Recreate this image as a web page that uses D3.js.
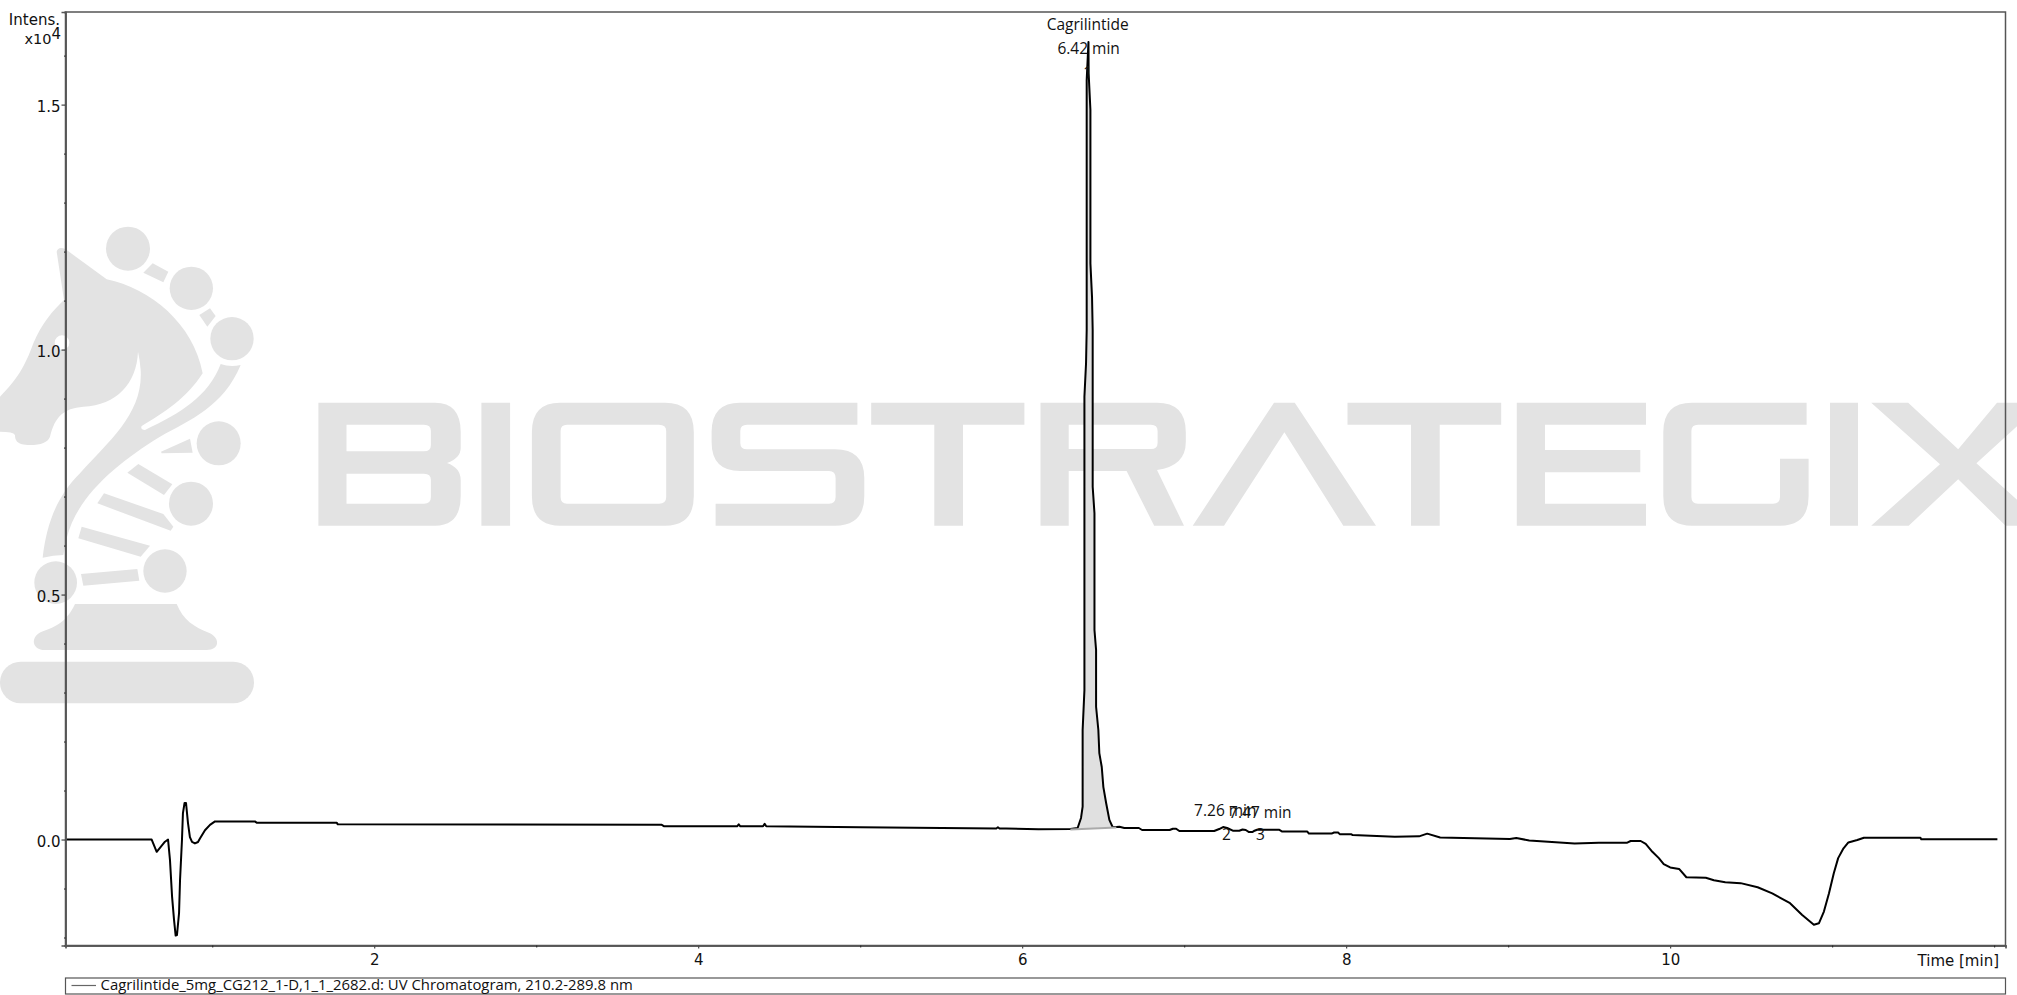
<!DOCTYPE html>
<meta charset="utf-8">
<style>
html, body { margin: 0; padding: 0; background: #fff; }
svg { display: block; }
text { font-family: "Open Sans", sans-serif; fill: #111; }
.axis text { font-family: "DejaVu Sans", sans-serif; font-size: 15px; fill: #111; }
.axis path { stroke: #555; stroke-width: 1.5px; }
.axis line { stroke: #222; }
.peaklabel { font-size: 15.5px; text-anchor: middle; }
.watermark { fill: #e3e3e3; fill-rule: evenodd; }
</style>
<svg width="2017" height="995"></svg>
<script src="https://cdn.jsdelivr.net/npm/d3@7"></script>
<script>

// retention time in minutes, intensity in units of 10^4
var times = [0.095, 0.626, 0.657, 0.677, 0.708, 0.727, 0.739, 0.752, 0.764, 0.774, 0.782, 0.795, 0.801, 0.813, 0.819, 0.829, 0.838, 0.85, 0.862, 0.875, 0.893, 0.912, 0.924, 0.955, 0.986, 1.017, 1.263, 1.276, 1.769, 1.775, 3.775, 3.79, 4.24, 4.25, 4.26, 4.4, 4.41, 4.42, 5, 5.84, 5.85, 5.86, 5.9, 6.1, 6.297,
  6.342, 6.363, 6.373, 6.373, 6.384, 6.384, 6.394, 6.398, 6.398, 6.409, 6.41, 6.421, 6.421, 6.431, 6.435, 6.435, 6.446, 6.446, 6.456, 6.456, 6.47, 6.476, 6.491, 6.501, 6.518, 6.538, 6.558, 6.581,
  6.6, 6.63, 6.72, 6.74, 6.91, 6.93, 6.95, 6.97, 7.185, 7.216, 7.24, 7.265, 7.3, 7.34, 7.36, 7.38, 7.4, 7.42, 7.43, 7.45, 7.555, 7.585, 7.605, 7.76, 7.77, 7.91, 7.925, 7.95, 7.96, 8.03, 8.04, 8.3, 8.45, 8.5, 8.58, 9.01, 9.05, 9.13, 9.41, 9.56, 9.735,
  9.756, 9.818, 9.849, 9.89, 9.93, 9.96, 10, 10.055, 10.1, 10.22, 10.27, 10.34, 10.435, 10.54, 10.63, 10.74, 10.815, 10.887, 10.918, 10.949, 10.98, 11.01, 11.037, 11.07, 11.1, 11.155, 11.196, 11.545, 11.55, 12.02];
var intens = [0, 0, -0.025, -0.017, -0.0045, 0, -0.042, -0.117, -0.164, -0.196, -0.195, -0.15, -0.083, -0.001, 0.054, 0.0745, 0.0745, 0.034, 0.005, -0.005, -0.008, -0.005, 0.002, 0.019, 0.03, 0.037, 0.037, 0.034, 0.034, 0.031, 0.03, 0.027, 0.027, 0.031, 0.027, 0.027, 0.032, 0.027, 0.025, 0.0225, 0.025, 0.0225, 0.0225, 0.021, 0.0215,
  0.0235, 0.044, 0.067, 0.2235, 0.305, 0.904, 0.972, 1.04, 1.55, 1.628, 1.564, 1.489, 1.176, 1.107, 1.04, 0.72, 0.666, 0.4276, 0.387, 0.271, 0.2235, 0.1765, 0.148, 0.107, 0.0745, 0.04, 0.0255, 0.0255,
  0.026, 0.0235, 0.0235, 0.0194, 0.0194, 0.022, 0.022, 0.0173, 0.0173, 0.0214, 0.0255, 0.0235, 0.018, 0.018, 0.0204, 0.0194, 0.0153, 0.0153, 0.0173, 0.02, 0.02, 0.02, 0.0163, 0.0163, 0.0122, 0.0122, 0.0143, 0.0143, 0.011, 0.011, 0.009, 0.0055, 0.0065, 0.012, 0.004, 0.001, 0.003, -0.002, -0.008, -0.0065, -0.0065,
  -0.003, -0.003, -0.009, -0.025, -0.038, -0.05, -0.057, -0.06, -0.077, -0.078, -0.083, -0.087, -0.089, -0.0975, -0.11, -0.13, -0.154, -0.174, -0.171, -0.147, -0.11, -0.069, -0.038, -0.018, -0.006, -0.001, 0.0037, 0.0037, 0.0004, 0.0004];

var xMajor = [2, 4, 6, 8, 10];
var xMinor = [1, 3, 5, 7, 9, 11, 12];
var yMajor = [0, 0.5, 1, 1.5];
var yMinor = [-0.2, -0.1, 0.1, 0.2, 0.3, 0.4, 0.6, 0.7, 0.8, 0.9, 1.1, 1.2, 1.3, 1.4, 1.6];

var peakStart = 6.297, peakEnd = 6.581;
var peakNames = [["Cagrilintide", "6.42 min", "1"], [null, "7.26 min", "2"], [null, "7.47 min", "3"]];
var peakTimes = [6.41, 7.26, 7.47];
var legendText = "Cagrilintide_5mg_CG212_1-D,1_1_2682.d: UV Chromatogram, 210.2-289.8 nm";

var svg = d3.select("svg");
var left = 65.5, right = 2005.5, top_ = 12, bottom = 945.5;

var x = d3.scaleLinear().domain([0.094, 12.07]).range([left, right]);
var y = d3.scaleLinear().domain([-0.2163, 1.689]).range([bottom, top_]);

// watermark, traced in a 3x crop so it is scaled back down
var mark = svg.append("g").attr("transform", "translate(0,210) scale(0.33333)").attr("class", "watermark");
mark.append("path").attr("d", "M170,125 Q175,108 197,118 L320,208 C450,235 580,340 608,490 C560,565 490,610 425,648 Q420,658 435,660 C540,610 625,560 662,462 Q690,472 722,465 C670,590 570,630 480,680 C350,760 230,860 200,985 L190,1035 Q160,1035 128,1043 C140,940 170,860 240,790 C330,690 430,610 422,480 Q420,450 414,425 C410,520 350,585 250,590 C190,595 165,620 150,680 Q140,705 90,705 C50,705 45,690 45,675 Q40,665 0,665 L0,560 C50,510 75,470 100,400 C125,340 160,300 192,270 Z M208,398 A22,22 0 1,0 164,398 A22,22 0 1,0 208,398 Z");
[[384,116,66],[574,235,65],[696,386,65],[656,700,66],[573,881,66],[495,1083,65],[167,1118,64]].forEach(function(c) {
  mark.append("circle").attr("cx", c[0]).attr("cy", c[1]).attr("r", c[2]);
});
["M430,188 L458,160 L505,185 L490,217 Z", "M598,315 L630,295 L647,318 L622,350 Z", "M483,725 L570,686 L578,728 L485,730 Z",
 "M382,788 L415,762 L517,823 L492,855 Z", "M292,880 L312,850 L490,912 L520,950 L512,962 Z", "M235,985 L245,950 L450,1007 L422,1040 Z",
 "M243,1092 L412,1077 L418,1112 L250,1127 Z",
 "M225,1182 L530,1182 C550,1230 580,1250 630,1270 C660,1285 660,1320 620,1320 L135,1320 C95,1320 90,1280 125,1265 C170,1250 200,1235 225,1182 Z"
].forEach(function(d) { mark.append("path").attr("d", d); });
mark.append("rect").attr("x", 0).attr("y", 1355).attr("width", 762).attr("height", 125).attr("rx", 62).attr("ry", 62);

var word = svg.append("g").attr("class", "watermark");
[
 // B
 "M318.4,402.7 H435 Q460.7,402.7 460.7,432 V448 Q460.7,458 447,463 Q460.7,468 460.7,480 V496 Q460.7,525.7 435,525.7 H318.4 Z M346.5,424.7 V451.3 H424 Q430.9,451.3 430.9,445 V431 Q430.9,424.7 424,424.7 Z M346.5,473.7 V503.7 H424 Q430.9,503.7 430.9,497 V480 Q430.9,473.7 424,473.7 Z",
 // I
 "M481.4,402.7 H510.1 V525.7 H481.4 Z",
 // O
 "M560,402.7 H665 Q693.8,402.7 693.8,432 V496 Q693.8,525.7 665,525.7 H560 Q531.9,525.7 531.9,496 V432 Q531.9,402.7 560,402.7 Z M567,424.7 Q560.6,424.7 560.6,431 V497 Q560.6,503.7 567,503.7 H659 Q666.2,503.7 666.2,497 V431 Q666.2,424.7 659,424.7 Z",
 // S
 "M740,402.7 H857.4 V424.7 H747 Q740.3,424.7 740.3,431 V443 Q740.3,449.3 747,449.3 H835 Q864.3,449.3 864.3,478 V496 Q864.3,525.7 835,525.7 H715.6 V503.7 H829 Q835.6,503.7 835.6,497 V478 Q835.6,471 829,471 H740 Q711.6,471 711.6,442 V432 Q711.6,402.7 740,402.7 Z",
 // T
 "M871.2,402.7 H1024.4 V424.7 H963 V525.7 H934.3 V424.7 H871.2 Z",
 // R
 "M1040.5,402.7 H1157 Q1185.8,402.7 1185.8,432 V442 Q1185.8,466 1157,470 L1184,525.7 H1154.2 L1126.6,471 H1068.7 V525.7 H1040.5 Z M1068.7,424.7 V449 H1151 Q1157.6,449 1157.6,443 V431 Q1157.6,424.7 1151,424.7 Z",
 // A
 "M1274,402.7 H1294.8 L1376,525.7 H1343.3 L1284.4,432.3 L1224,525.7 H1192.7 Z",
 // T
 "M1347.5,402.7 H1501.2 V424.7 H1439.7 V525.7 H1411 V424.7 H1347.5 Z",
 // E
 "M1516.8,402.7 H1646 V424.7 H1545 V450 H1640.3 V472.3 H1545 V503.7 H1646 V525.7 H1516.8 Z",
 // G
 "M1692,402.7 H1806.6 V424.7 H1698 Q1691.4,424.7 1691.4,431 V497 Q1691.4,503.7 1698,503.7 H1773 Q1780,503.7 1780,497 V458.7 H1808.6 V496 Q1808.6,525.7 1780,525.7 H1692 Q1663.3,525.7 1663.3,496 V432 Q1663.3,402.7 1692,402.7 Z",
 // I
 "M1830,402.7 H1858 V525.7 H1830 Z",
 // X
 "M1871.2,402.7 H1908.2 L1958.2,449.3 L1997,402.7 H2043 L1976.4,463.3 L2046,525.7 H2005.6 L1958.2,479.3 L1908.7,525.7 H1871.2 L1940,464.3 Z"
].forEach(function(d) { word.append("path").attr("d", d); });

// peak area
var peakData = times.map(function(t, i) { return [t, intens[i]]; }).filter(function(d) {
  return d[0] >= peakStart && d[0] <= peakEnd;
});
var baseY = d3.scaleLinear().domain([peakStart, peakEnd]).range([peakData[0][1], peakData[peakData.length - 1][1]]);
svg.append("path")
  .datum(peakData)
  .attr("fill", "#e0e0e0")
  .attr("d", d3.area().x(function(d) { return x(d[0]); }).y1(function(d) { return y(d[1]); }).y0(function(d) { return y(baseY(d[0])); }));

// chromatogram trace
var line = d3.line().x(function(d, i) { return x(times[i]); }).y(function(d) { return y(d); });
svg.append("path")
  .datum(intens)
  .attr("fill", "none")
  .attr("stroke", "#000")
  .attr("stroke-width", 2)
  .attr("stroke-linejoin", "round")
  .attr("d", line);

// gray integration base sits over the trace
svg.append("line")
  .attr("x1", x(peakStart)).attr("x2", x(peakEnd))
  .attr("y1", y(baseY(peakStart)) + 0.5).attr("y2", y(baseY(peakEnd)) + 0.5)
  .attr("stroke", "#aaa").attr("stroke-width", 2);

// frame
svg.append("rect")
  .attr("x", left).attr("y", top_)
  .attr("width", right - left).attr("height", bottom - top_)
  .attr("fill", "none").attr("stroke", "#555").attr("stroke-width", 1.5);

// axes
var xAxis = svg.append("g").attr("class", "axis").attr("transform", "translate(0," + bottom + ")")
  .call(d3.axisBottom(x).tickValues(xMajor).tickSize(3).tickPadding(6).tickFormat(d3.format("d")));
svg.append("g").attr("class", "axis").attr("transform", "translate(0," + bottom + ")")
  .call(d3.axisBottom(x).tickValues(xMinor).tickSize(2).tickFormat(""));
var yAxis = svg.append("g").attr("class", "axis").attr("transform", "translate(" + left + ",0)")
  .call(d3.axisLeft(y).tickValues(yMajor).tickSize(4).tickPadding(1).tickFormat(d3.format(".1f")));
yAxis.selectAll("text").attr("dy", "0.45em");
svg.append("g").attr("class", "axis").attr("transform", "translate(" + left + ",0)")
  .call(d3.axisLeft(y).tickValues(yMinor).tickSize(1.5).tickFormat(""));

svg.append("text").attr("x", 1999).attr("y", 966).attr("text-anchor", "end")
  .style("font-family", "DejaVu Sans").style("font-size", "15px").text("Time [min]");
svg.append("text").attr("x", 60).attr("y", 25).attr("text-anchor", "end")
  .style("font-family", "DejaVu Sans").style("font-size", "15px").text("Intens.");
var exp = svg.append("text").attr("x", 61).attr("y", 44).attr("text-anchor", "end")
  .style("font-family", "DejaVu Sans").style("font-size", "14.5px");
exp.append("tspan").text("x10");
exp.append("tspan").attr("dy", -5).style("font-size", "15px").text("4");

// peak labels
peakTimes.forEach(function(t, i) {
  if (peakNames[i][0]) {
    svg.append("text").attr("class", "peaklabel").attr("x", x(t) - 1).attr("y", 30).text(peakNames[i][0]);
    svg.append("text").attr("class", "peaklabel").attr("x", x(t)).attr("y", 54).text(peakNames[i][1]);
    svg.append("text").attr("class", "peaklabel").attr("x", x(t) - 1).attr("y", 78).text(peakNames[i][2]);
  } else {
    svg.append("text").attr("class", "peaklabel").attr("x", x(t) - (i == 1 ? 1 : 0)).attr("y", i == 1 ? 816 : 818).text(peakNames[i][1]);
    svg.append("text").attr("class", "peaklabel").attr("x", x(t)).attr("y", 840).text(peakNames[i][2]);
  }
});

// legend
svg.append("rect").attr("x", left).attr("y", 978).attr("width", right - left).attr("height", 16)
  .attr("fill", "#fff").attr("stroke", "#555").attr("stroke-width", 1.2);
svg.append("line").attr("x1", 71.5).attr("x2", 96).attr("y1", 985.5).attr("y2", 985.5)
  .attr("stroke", "#666").attr("stroke-width", 1.2);
svg.append("text").attr("x", 100.5).attr("y", 990).style("font-size", "14.9px").text(legendText);

</script>
